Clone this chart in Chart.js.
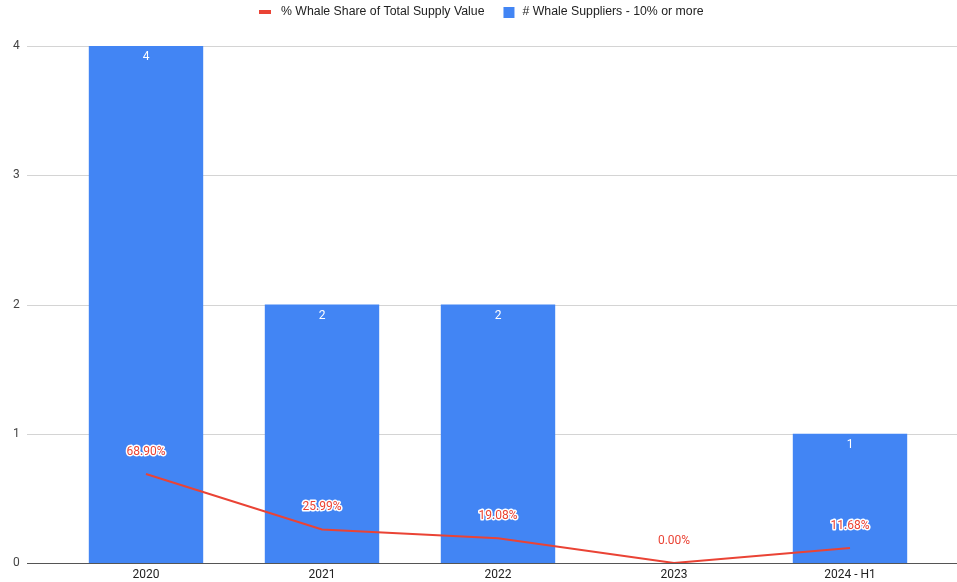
<!DOCTYPE html>
<html>
<head>
<meta charset="utf-8">
<script src="https://cdn.jsdelivr.net/npm/chart.js@4/dist/chart.umd.min.js"></script>
<style>
  html, body { margin: 0; padding: 0; background: #fff; overflow: hidden; }
  #wrap { position: relative; width: 957px; height: 582px; }
  canvas { display: block; }
</style>
</head>
<body>
<div id="wrap"><canvas id="whaleChart"></canvas></div>
<script>
const years = ['2020', '2021', '2022', '2023', '2024 - H1'];
const whaleSuppliers = [4, 2, 2, 0, 1];
const whaleShare = [0.689, 0.2599, 0.1908, 0, 0.1168];
const yMax = 4;

const RED = '#EA4335';
const BLUE = '#4285F4';
const FONT = 'Roboto, Arial, sans-serif';

// horizontal gridlines run wider than the category band
const gridLines = {
  id: 'gridLines',
  beforeDatasetsDraw(chart) {
    const { ctx, scales: { y } } = chart;
    ctx.save();
    ctx.lineWidth = 1;
    ctx.strokeStyle = '#d4d4d4';
    y.ticks.forEach(t => {
      if (t.value === 0) return;
      const py = Math.round(y.getPixelForValue(t.value)) + 0.5;
      ctx.beginPath();
      ctx.moveTo(27, py);
      ctx.lineTo(chart.width, py);
      ctx.stroke();
    });
    ctx.restore();
  },
  afterDatasetsDraw(chart) {
    const { ctx, scales: { y } } = chart;
    const py = Math.round(y.getPixelForValue(0)) + 0.5;
    ctx.save();
    ctx.lineWidth = 1;
    ctx.strokeStyle = '#555';
    ctx.beginPath();
    ctx.moveTo(27, py);
    ctx.lineTo(chart.width, py);
    ctx.stroke();
    ctx.restore();
  }
};

// value labels: counts inside bars, percentages above the line
const valueLabels = {
  id: 'valueLabels',
  afterDraw(chart) {
    const { ctx } = chart;
    ctx.save();
    ctx.font = '12px ' + FONT;
    ctx.textAlign = 'center';
    ctx.textBaseline = 'middle';

    chart.getDatasetMeta(1).data.forEach((el, i) => {
      const v = whaleSuppliers[i];
      if (!v) return;
      ctx.fillStyle = '#fff';
      ctx.fillText(String(v), el.x, el.y + 11);
    });

    chart.getDatasetMeta(0).data.forEach((el, i) => {
      const txt = (whaleShare[i] * 100).toFixed(2) + '%';
      const ty = el.y - 22;
      ctx.lineJoin = 'round';
      ctx.lineWidth = 3;
      ctx.strokeStyle = '#fff';
      ctx.strokeText(txt, el.x, ty);
      ctx.fillStyle = RED;
      ctx.fillText(txt, el.x, ty);
    });
    ctx.restore();
  }
};

// legend row at the top
const topLegend = {
  id: 'topLegend',
  afterDraw(chart) {
    const { ctx } = chart;
    const ds = chart.data.datasets;
    ctx.save();
    ctx.font = '12.3px Arial, "Liberation Sans", sans-serif';
    ctx.textBaseline = 'middle';
    const w0 = ctx.measureText(ds[0].label).width;
    const w1 = ctx.measureText(ds[1].label).width;
    const total = 12 + 10 + w0 + 19 + 11 + 8 + w1;
    let x = Math.round((chart.width - total) / 2) + 3;
    const y = 12;

    ctx.fillStyle = RED;
    ctx.fillRect(x, y - 2, 12, 4);
    x += 22;
    ctx.fillStyle = '#222';
    ctx.fillText(ds[0].label, x, y);
    x += w0 + 19;

    ctx.fillStyle = BLUE;
    ctx.fillRect(x, y - 5, 11, 11);
    x += 19;
    ctx.fillStyle = '#222';
    ctx.fillText(ds[1].label, x, y);
    ctx.restore();
  }
};

new Chart(document.getElementById('whaleChart'), {
  data: {
    labels: years,
    datasets: [
      {
        type: 'line',
        label: '% Whale Share of Total Supply Value',
        data: whaleShare,
        borderColor: RED,
        backgroundColor: RED,
        borderWidth: 2,
        pointRadius: 0,
        tension: 0,
        order: 0
      },
      {
        type: 'bar',
        label: '# Whale Suppliers - 10% or more',
        data: whaleSuppliers,
        backgroundColor: BLUE,
        barPercentage: 1,
        categoryPercentage: 0.65,
        order: 1
      }
    ]
  },
  options: {
    responsive: true,
    maintainAspectRatio: false,
    animation: false,
    layout: { padding: { top: 46, right: 19, left: 13, bottom: 0 } },
    plugins: {
      legend: { display: false },
      tooltip: { enabled: false }
    },
    scales: {
      x: {
        grid: { display: false, drawTicks: false },
        border: { display: false },
        ticks: { color: '#222', font: { family: FONT, size: 12 }, padding: 5 },
        afterFit(scale) { scale.height = 19; }
      },
      y: {
        min: 0,
        max: yMax,
        grid: { display: false, drawTicks: false },
        border: { display: false },
        ticks: { stepSize: 1, color: '#444', font: { family: FONT, size: 12 }, padding: 0, crossAlign: 'far' },
        afterFit(scale) { scale.width = 45; }
      }
    }
  },
  plugins: [gridLines, valueLabels, topLegend]
});
</script>
</body>
</html>
